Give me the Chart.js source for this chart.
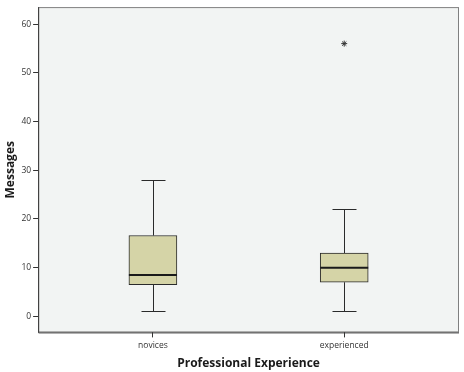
<!DOCTYPE html>
<html><head><meta charset="utf-8">
<script src="https://cdn.jsdelivr.net/npm/chart.js@4.4.1/dist/chart.umd.min.js"></script>
<style>html,body{margin:0;padding:0;background:#fff}#wrap{width:464px;height:372px}</style>
</head><body><div id="wrap"><canvas id="c" width="464" height="372"></canvas></div>
<script>
const categories = ['novices', 'experienced'];
const whiskerLow = [1, 1];
const q1 = [6.5, 7];
const medians = [8.5, 10];
const q3 = [16.6, 13];
const whiskerHigh = [28, 22];
const outliers = [{x: 1, y: 56}];
const yTicks = [0, 10, 20, 30, 40, 50, 60];

const boxPlugin = {
  id: 'boxparts',
  beforeDraw(chart) {
    const {ctx, chartArea: a} = chart;
    ctx.save();
    ctx.fillStyle = '#f2f4f3';
    ctx.fillRect(a.left, a.top, a.right - a.left, a.bottom - a.top);
    ctx.restore();
  },
  beforeDatasetsDraw(chart) {
    const {ctx, scales: {x, y}} = chart;
    ctx.save();
    ctx.strokeStyle = '#2a2a2a';
    ctx.lineWidth = 1;
    categories.forEach((c, i) => {
      const px = Math.round(x.getPixelForValue(i)) + 0.5;
      const capHalf = 12;
      const pairs = [[whiskerHigh[i], q3[i]], [whiskerLow[i], q1[i]]];
      pairs.forEach(([end, start]) => {
        const ye = Math.round(y.getPixelForValue(end)) + 0.5;
        const ys = y.getPixelForValue(start);
        ctx.beginPath();
        ctx.moveTo(px, ye); ctx.lineTo(px, ys);
        ctx.moveTo(px - capHalf, ye); ctx.lineTo(px + capHalf, ye);
        ctx.stroke();
      });
    });
    ctx.restore();
  },
  afterDatasetsDraw(chart) {
    const {ctx, scales: {x, y}, chartArea: a} = chart;
    ctx.save();
    ctx.strokeStyle = '#1a1a1a';
    ctx.lineWidth = 2;
    categories.forEach((c, i) => {
      const px = x.getPixelForValue(i);
      const ym = y.getPixelForValue(medians[i]);
      ctx.beginPath();
      ctx.moveTo(px - 24, ym); ctx.lineTo(px + 24, ym);
      ctx.stroke();
    });
    ctx.restore();
    ctx.save();
    ctx.strokeStyle = '#808080';
    ctx.lineWidth = 1;
    ctx.strokeRect(a.left + 0.5, a.top + 0.5, a.right - a.left - 1, a.bottom - a.top - 1);
    ctx.strokeStyle = '#3a3a3a';
    ctx.beginPath();
    ctx.moveTo(a.left + 0.5, a.top); ctx.lineTo(a.left + 0.5, a.bottom + 0.5); ctx.lineTo(a.right, a.bottom + 0.5);
    ctx.stroke();
    ctx.restore();
  }
};

new Chart(document.getElementById('c'), {
  type: 'bar',
  data: {
    datasets: [
      {
        type: 'bar',
        data: categories.map((c, i) => ({x: i, y: [q1[i], q3[i]]})),
        backgroundColor: '#d5d4a7',
        borderColor: '#2a2a2a',
        borderWidth: 1,
        borderSkipped: false,
        barThickness: 48
      },
      {
        type: 'scatter',
        data: outliers,
        pointStyle: 'star',
        radius: 3,
        borderColor: '#333',
        borderWidth: 1,
        backgroundColor: '#333'
      }
    ]
  },
  plugins: [boxPlugin],
  options: {
    responsive: false,
    animation: false,
    layout: {padding: {left: 3, right: 3, top: 4, bottom: 1}},
    plugins: {legend: {display: false}, tooltip: {enabled: false}},
    scales: {
      x: {
        type: 'linear',
        offset: false,
        min: -0.6, max: 1.6,
        afterBuildTicks(s) { s.ticks = categories.map((c, i) => ({value: i})); },
        ticks: {
          callback: (v) => categories[v] !== undefined ? categories[v] : '',
          color: '#333', font: {family: 'Open Sans', size: 8.5}, padding: 3
        },
        grid: {offset: false, drawOnChartArea: false, drawTicks: true, tickLength: 5, color: '#333'},
        border: {display: false},
        title: {display: true, text: 'Professional Experience', color: '#1a1a1a',
          font: {family: 'Open Sans', size: 12, weight: 'bold'}, padding: {top: 3, bottom: 0}}
      },
      y: {
        min: -3.3, max: 63.5,
        afterBuildTicks(s) { s.ticks = yTicks.map(v => ({value: v})); },
        ticks: {color: '#333', font: {family: 'Open Sans', size: 8.5}, padding: 2},
        grid: {drawOnChartArea: false, drawTicks: true, tickLength: 5, color: '#333'},
        border: {display: false},
        title: {display: true, text: 'Messages', color: '#1a1a1a',
          font: {family: 'Open Sans', size: 12, weight: 'bold'}, padding: {top: 0, bottom: 2}}
      }
    }
  }
});
</script>
</body></html>
